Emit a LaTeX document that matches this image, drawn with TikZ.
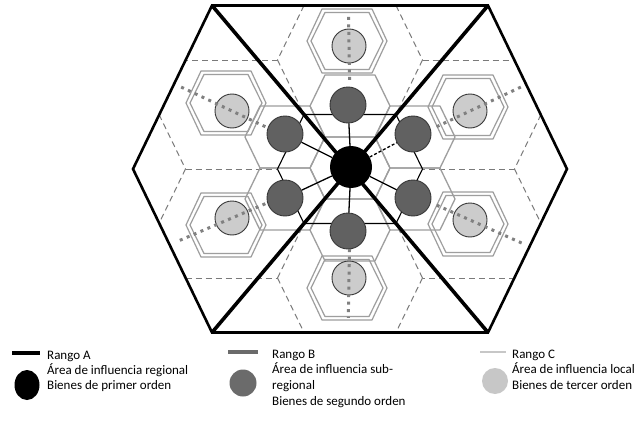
\documentclass[tikz,border=0pt]{standalone}
\usepackage{fontspec}
\setmainfont{Carlito}
\usetikzlibrary{calc}
\definecolor{dashgray}{gray}{0.48}
\definecolor{hexgray}{gray}{0.62}
\definecolor{darkfill}{gray}{0.38}
\definecolor{lightfill}{gray}{0.80}
\definecolor{dotgray}{gray}{0.50}
\definecolor{rimgray}{gray}{0.22}
\definecolor{legB}{gray}{0.42}
\definecolor{legC}{gray}{0.78}
\begin{document}
\begin{tikzpicture}[x=1pt,y=-1pt,
  gridline/.style={draw=dashgray, line width=1pt, dash pattern=on 6pt off 4pt},
  hexC/.style={draw=hexgray, line width=1.2pt, line join=round},
  hexB/.style={draw=hexgray, line width=1.3pt, line join=round},
  hexA/.style={draw=black, line width=1.1pt},
  spoke/.style={draw=black, line width=1.3pt},
  spokedash/.style={spoke, dash pattern=on 3pt off 2pt},
  dotline/.style={draw=dotgray, line width=3pt, line cap=butt, dash pattern=on 3pt off 4.5pt},
  lightc/.style={circle, draw=rimgray, line width=0.9pt, fill=lightfill, minimum size=34pt, inner sep=0pt},
  darkc/.style={circle, draw=rimgray, line width=0.9pt, fill=darkfill, minimum size=36pt, inner sep=0pt},
  centc/.style={circle, fill=black, minimum size=42pt, inner sep=0pt},
  rangeA/.style={draw=black, line width=2.6pt, line join=miter},
  diagA/.style={draw=black, line width=3.6pt},
  legtext/.style={anchor=base west, inner sep=0pt, font=\fontsize{13}{15}\selectfont},
]
\useasboundingbox (0,0) rectangle (638,423);
\fill[white] (0,0) rectangle (638,423);

% outer hexagon corners
\coordinate (OTL) at (212,5.5);
\coordinate (OTR) at (488,5.5);
\coordinate (OR) at (567,169);
\coordinate (OBR) at (488,332.5);
\coordinate (OBL) at (212,332.5);
\coordinate (OL) at (133,169);

% dashed grid: each edge once, left side mirrored
\foreach \xa/\ya/\xb/\yb in {396/5.5/422.5/60, 422.5/60/396/114.5, 422.5/60/514.5/60,
  541/114.5/514.5/169, 514.5/169/422.5/169, 514.5/169/541/223.5,
  514.5/278/422.5/278, 422.5/278/396/223.5, 422.5/278/396/332.5} {
  \draw[gridline] (\xa,\ya) -- (\xb,\yb);
  \draw[gridline] ({700-\xa},\ya) -- ({700-\xb},\yb);
}

% Rango C hexagons (double)
\foreach \x/\y in {347/41, 468/107, 468/224, 347/288, 226/225, 226/103} {
  \draw[hexC, shift={(\x,\y)}] (-25,-32) -- (25,-32) -- (40,0) -- (25,32) -- (-25,32) -- (-40,0) -- cycle;
  \draw[hexC, shift={(\x,\y)}] (-22,-28.5) -- (22,-28.5) -- (36,0) -- (22,28.5) -- (-22,28.5) -- (-36,0) -- cycle;
}

% Rango B hexagons
\foreach \dx/\dy in {0/0, 0/-62, -65/-31, 65/-31, -65/31, 65/31, 0/62}
  \draw[hexB, shift={({350+\dx},{168+\dy})}] (-25,-31) -- (25,-31) -- (40,0) -- (25,31) -- (-25,31) -- (-40,0) -- cycle;

% central thin black hexagon
\draw[hexA] (304,114.5) -- (396,114.5) -- (422.5,169) -- (396,223.5) -- (304,223.5) -- (277.5,169) -- cycle;

% circles
\node[lightc] (l1) at (349,46) {};
\node[lightc] (l2) at (232,111) {};
\node[lightc] (l3) at (470,111) {};
\node[lightc] (l4) at (232,218) {};
\node[lightc] (l5) at (470,220) {};
\node[lightc] (l6) at (349,278) {};

\node[darkc] (d1) at (348,105) {};
\node[darkc] (d2) at (285,134) {};
\node[darkc] (d3) at (413,134) {};
\node[darkc] (d4) at (285,198) {};
\node[darkc] (d5) at (413,198) {};
\node[darkc] (d6) at (348,231) {};

\node[centc] (c0) at (351,167) {};

% spokes
\draw[spoke] (c0) -- (d1);
\draw[spoke] (c0) -- (d2);
\draw[spokedash] (c0) -- (d3);
\draw[spoke] (c0) -- (d4);
\draw[spoke] (c0) -- (d5);
\draw[spoke] (c0) -- (d6);

% dotted radial lines through the local centres
\coordinate (p1a) at ($(c0.center)!0.72!(l1.center)$);
\coordinate (p1b) at ($(c0.center)!1.27!(l1.center)$);
\coordinate (p6a) at ($(c0.center)!0.74!(l6.center)$);
\coordinate (p6b) at ($(c0.center)!1.36!(l6.center)$);
\coordinate (p2a) at ($(c0.center)!0.72!(l2.center)$);
\coordinate (p2b) at ($(c0.center)!1.45!(l2.center)$);
\coordinate (p3a) at ($(c0.center)!0.72!(l3.center)$);
\coordinate (p3b) at ($(c0.center)!1.45!(l3.center)$);
\coordinate (p4a) at ($(c0.center)!0.72!(l4.center)$);
\coordinate (p4b) at ($(c0.center)!1.45!(l4.center)$);
\coordinate (p5a) at ($(c0.center)!0.72!(l5.center)$);
\coordinate (p5b) at ($(c0.center)!1.45!(l5.center)$);
\foreach \i in {1,...,6} \draw[dotline] (p\i a) -- (p\i b);

% Rango A: outer hexagon and diagonals
\draw[rangeA] (OTL) -- (OTR) -- (OR) -- (OBR) -- (OBL) -- (OL) -- cycle;
\draw[diagA] (OTL) -- (OBR);
\draw[diagA] (OTR) -- (OBL);

% legend
\coordinate (kA1) at (12,353); \coordinate (kA2) at (40,353);
\draw[line width=3.6pt, black] (kA1) -- (kA2);
\fill[black] (27,385) ellipse [x radius=12.5, y radius=15];
\node[legtext] (ta1) at (47,359) {Rango A};
\node[legtext] (ta2) at (47,374) {Área de influencia regional};
\node[legtext] (ta3) at (47,389) {Bienes de primer orden};

\coordinate (kB1) at (228,352); \coordinate (kB2) at (258,352);
\draw[line width=3.4pt, legB] (kB1) -- (kB2);
\fill[legB] (243,383) circle [radius=13.5];
\node[legtext] (tb1) at (272,358) {Rango B};
\node[legtext] (tb2) at (272,373) {Área de influencia sub-};
\node[legtext] (tb3) at (272,389) {regional};
\node[legtext] (tb4) at (272,405) {Bienes de segundo orden};

\coordinate (kC1) at (480,352); \coordinate (kC2) at (506,352);
\draw[line width=2.4pt, legC] (kC1) -- (kC2);
\fill[legC] (495,381) circle [radius=13];
\node[legtext] (tc1) at (512,358) {Rango C};
\node[legtext] (tc2) at (512,373) {Área de influencia local};
\node[legtext] (tc3) at (512,389) {Bienes de tercer orden};
\end{tikzpicture}
\end{document}
